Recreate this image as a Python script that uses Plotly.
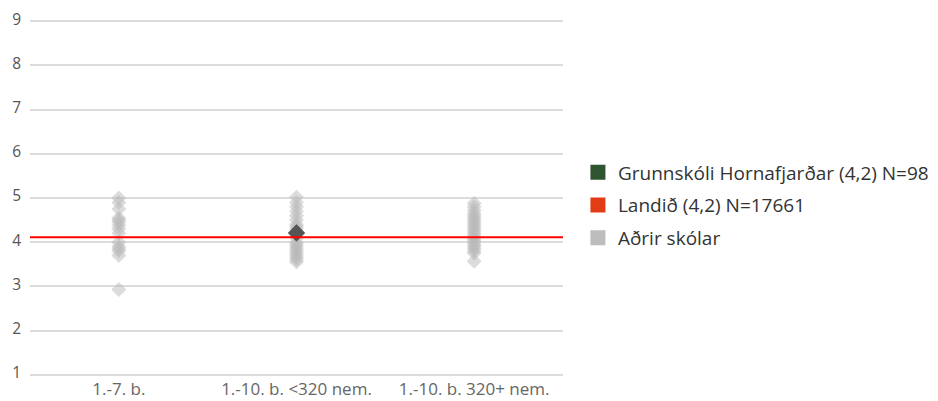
import plotly.graph_objects as go

categories = ["1.-7. b.", "1.-10. b. <320 nem.", "1.-10. b. 320+ nem."]

other_cat1 = [5.0, 4.9, 4.75, 4.55, 4.5, 4.45, 4.38, 4.3, 4.2, 4.0, 3.9, 3.85, 3.8, 3.7, 2.93]
other_cat2 = [5.02, 4.9, 4.8, 4.7, 4.6, 4.5, 4.4, 4.35, 4.3, 4.2, 4.1, 4.0, 3.95, 3.9,
              3.85, 3.8, 3.75, 3.7, 3.65, 3.6, 3.55]
other_cat3 = [4.88, 4.8, 4.72, 4.65, 4.6, 4.55, 4.5, 4.45, 4.4, 4.35, 4.3, 4.25, 4.2, 4.15,
              4.1, 4.05, 4.0, 3.95, 3.9, 3.85, 3.8, 3.75, 3.57]

school_cat = "1.-10. b. <320 nem."
school_value = 4.21
national_value = 4.11

legend_school = "Grunnskóli Hornafjarðar (4,2) N=98"
legend_national = "Landið (4,2) N=17661"
legend_other = "Aðrir skólar"

yticks = [1, 2, 3, 4, 5, 6, 7, 8, 9]

FONT = "Open Sans, sans-serif"

fig = go.Figure()

others = [other_cat1, other_cat2, other_cat3]
for cat, vals in zip(categories, others):
    fig.add_trace(go.Scatter(
        x=[cat] * len(vals), y=vals, mode="markers",
        marker=dict(symbol="diamond", size=11.5, color="rgba(185,185,185,0.5)",
                    line=dict(width=0)),
        showlegend=False, hoverinfo="y", cliponaxis=False))

fig.add_trace(go.Scatter(
    x=[school_cat], y=[school_value], mode="markers",
    marker=dict(symbol="diamond", size=13, color="#555555", line=dict(width=0.5, color="#444444")),
    showlegend=False))

# national line
fig.add_shape(type="line", xref="paper", x0=0, x1=1, yref="y",
              y0=national_value, y1=national_value,
              line=dict(color="#ff0000", width=2))

# legend entries
for name, col, grp in [(legend_school, "#2e5530", "a"),
                       (legend_national, "#e23c17", "b"),
                       (legend_other, "#bdbdbd", "c")]:
    fig.add_trace(go.Scatter(
        x=[None], y=[None], mode="markers", name=name, legendgroup=grp,
        marker=dict(symbol="square", size=15, color=col)))

fig.update_layout(
    width=930, height=393,
    margin=dict(l=22, r=375, t=12, b=25, autoexpand=False),
    paper_bgcolor="white", plot_bgcolor="white",
    font=dict(family=FONT, size=16, color="#555555"),
    legend=dict(x=1.028, xanchor="left", y=0.479, yanchor="middle",
                font=dict(family=FONT, size=19, color="#333333"),
                tracegroupgap=5, traceorder="grouped",
                itemwidth=30),
    xaxis=dict(type="category", categoryorder="array", categoryarray=categories,
               range=[-0.5, 2.5],
               showgrid=False, showline=False, zeroline=False, tickangle=0,
               ticklabelstandoff=1,
               tickfont=dict(family=FONT, size=17, color="#666666"), ticks=""),
    yaxis=dict(range=[0.97, 9.03], tickvals=yticks, showgrid=True, gridcolor="#dcdcdc",
               gridwidth=1.5, zeroline=False, showline=False,
               ticklabelshift=-2, ticklabelstandoff=8, ticklabeloverflow="allow",
               tickfont=dict(family=FONT, size=15.5, color="#555555"), ticks=""),
)

fig.write_html("out.html")
